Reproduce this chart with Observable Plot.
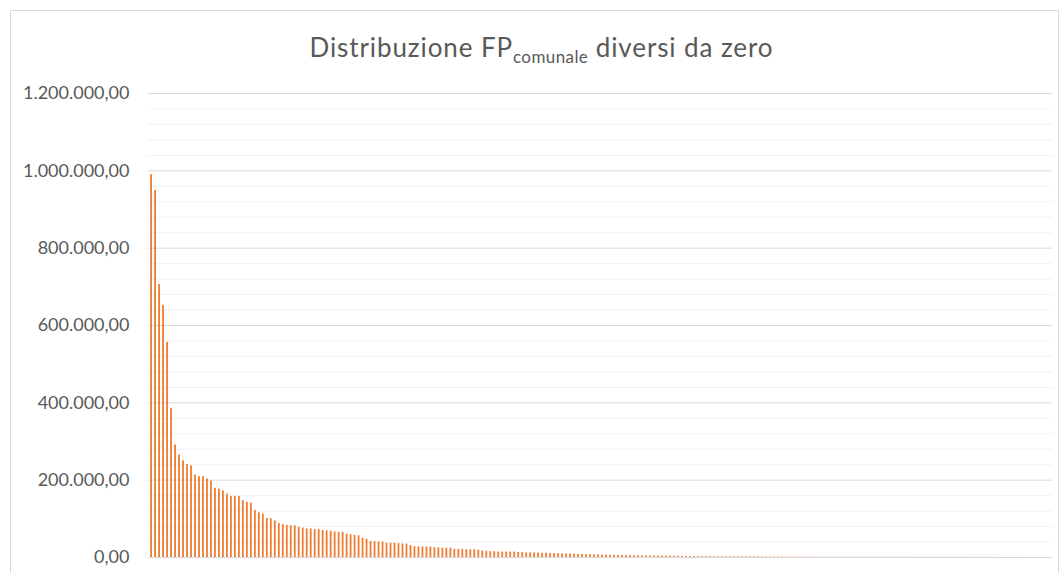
<!DOCTYPE html>
<html>
<head>
<meta charset="utf-8">
<script src="https://cdn.jsdelivr.net/npm/d3@7"></script>
<script src="https://cdn.jsdelivr.net/npm/@observablehq/plot@0.6"></script>
<style>
  html, body { margin: 0; padding: 0; background: #fff; }
  body { width: 1063px; height: 573px; position: relative; overflow: hidden; font-family: Lato, "Open Sans", sans-serif; }
  #frame { position: absolute; left: 10px; top: 10px; width: 1049px; height: 600px; border: 1px solid #D9D9D9; box-sizing: border-box; }
  #title { position: absolute; left: 0; top: 32px; width: 1083px; text-align: center; font-size: 26px; letter-spacing: 0.9px; color: #595959; white-space: nowrap; line-height: 30px; }
  #title sub { font-size: 17px; vertical-align: -6px; line-height: 0; letter-spacing: 0.4px; }
  #chart { position: absolute; left: 0; top: 70px; }
</style>
</head>
<body>
<div id="frame"></div>
<div id="title">Distribuzione FP<sub>comunale</sub> diversi da zero</div>
<div id="chart"></div>
<script>
// Values (one bar per comune, sorted descending)
const values = [
  990000, 949000, 706000, 652000, 556000, 386000, 291000, 265000, 250000, 241000,
  237000, 213000, 209000, 209000, 203000, 198000, 179000, 177000, 172000, 164000,
  158000, 158000, 158000, 147000, 143000, 141000, 122000, 116000, 112000, 101000,
  100000, 95000, 88000, 85000, 83000, 82000, 82000, 78000, 76000, 74000,
  74000, 72000, 72000, 70000, 69000, 68000, 66000, 65000, 65000, 60000,
  59000, 57000, 56000, 50000, 47000, 42000, 41000, 40000, 40000, 37000,
  37000, 37000, 36000, 35000, 35000, 31000, 28000, 28000, 27000, 27000,
  27000, 25000, 25000, 24000, 24000, 24000, 21000, 21000, 21000, 20000,
  20000, 20000, 19000, 17000, 16000, 15000, 15000, 14000, 14000, 14000,
  14000, 14000, 13000, 13000, 12000, 12000, 12000, 11500, 11000, 11000,
  10500, 10000, 10000, 9500, 9000, 9000, 8500, 8000, 8000, 7500,
  7000, 7000, 6500, 6500, 6000, 6000, 5500, 5500, 5000, 5000,
  4800, 4500, 4500, 4200, 4000, 4000, 3800, 3600, 3500, 3400,
  3200, 3000, 3000, 2800, 2700, 2600, 2500, 2400, 2300, 2200,
  2100, 2000, 2000, 1900, 1900, 1800, 1800, 1700, 1700, 1600,
  1600, 1500, 1500, 1400, 1400, 1300, 1300, 1250, 1200, 1150,
  1100, 1050, 1000, 1000, 950, 900, 900, 850, 800, 800,
  750, 700, 700, 650, 650, 600, 600, 580, 560, 540,
  520, 500, 480, 460, 450, 440, 420, 400, 390, 380,
  370, 360, 350, 340, 330, 320, 310, 300, 290, 280,
  270, 260, 250, 240, 230, 220, 210, 200, 190, 180,
  170, 160, 150, 140, 130, 120, 110, 100, 90, 80,
  70, 60, 50, 40, 30, 20
];
const majorTicks = [0, 200000, 400000, 600000, 800000, 1000000, 1200000];
const minorTicks = [40000, 80000, 120000, 160000, 240000, 280000, 320000, 360000,
  440000, 480000, 520000, 560000, 640000, 680000, 720000, 760000,
  840000, 880000, 920000, 960000, 1040000, 1080000, 1120000, 1160000];

const data = values.map((v, i) => ({idx: i + 1, value: v}));
const locale = d3.formatLocale({decimal: ",", thousands: ".", grouping: [3], currency: ["", ""]});
const fmt = locale.format(",.2f");

const plot = Plot.plot({
  width: 1063,
  height: 503,
  marginTop: 23,
  marginBottom: 16,
  marginLeft: 148,
  marginRight: 11,
  style: {fontFamily: "Lato, 'Open Sans', sans-serif", fontSize: "18px", color: "#595959", background: "transparent"},
  x: {type: "band", domain: data.map(d => d.idx), padding: 0.55, axis: null},
  y: {domain: [0, 1200000], axis: null},
  marks: [
    Plot.ruleY(minorTicks, {stroke: "#F2F2F2", strokeWidth: 1}),
    Plot.ruleY(majorTicks, {stroke: "#D9D9D9", strokeWidth: 1}),
    Plot.barY(data, {x: "idx", y: "value", fill: "#ED7D31"}),
    Plot.axisY(majorTicks, {tickSize: 0, tickPadding: 19, tickFormat: fmt, fill: "#595959", fontSize: 18, label: null})
  ]
});
document.getElementById("chart").appendChild(plot);
</script>
</body>
</html>
